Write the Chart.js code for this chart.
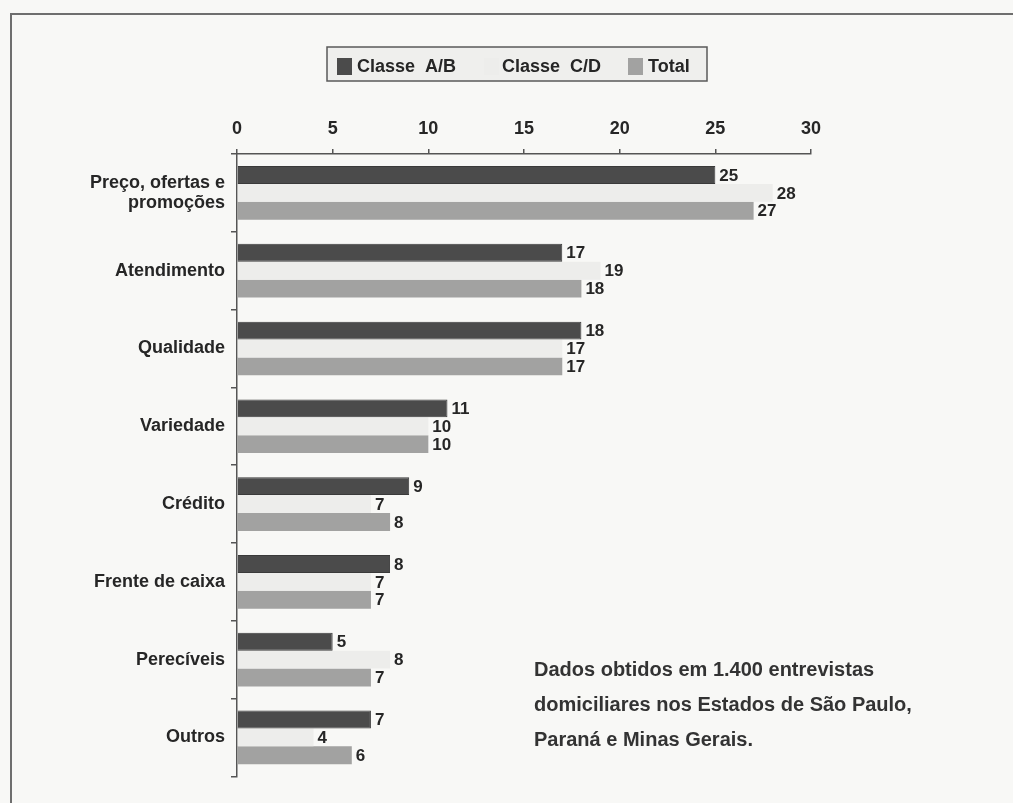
<!DOCTYPE html>
<html>
<head>
<meta charset="utf-8">
<script src="https://cdn.jsdelivr.net/npm/chart.js@4"></script>
<style>
  html, body { margin: 0; padding: 0; background: #f8f8f6; }
  #wrap { width: 1013px; height: 803px; position: relative; }
</style>
</head>
<body>
<div id="wrap"><canvas id="c" width="1013" height="803"></canvas></div>
<script>
// ---- data ----
const categories = [["Preço, ofertas e", "promoções"], "Atendimento", "Qualidade", "Variedade", "Crédito", "Frente de caixa", "Perecíveis", "Outros"];
const seriesNames = ["Classe  A/B", "Classe  C/D", "Total"];
const classeAB = [25, 17, 18, 11, 9, 8, 5, 7];
const classeCD = [28, 19, 17, 10, 7, 7, 8, 4];
const totalVals = [27, 18, 17, 10, 8, 7, 7, 6];
const xTickValues = [0, 5, 10, 15, 20, 25, 30];
const noteLines = ["Dados obtidos em 1.400 entrevistas", "domiciliares nos Estados de São Paulo,", "Paraná e Minas Gerais."];

const FONT = "'Liberation Sans', Arial, Helvetica, sans-serif";
const TEXT = "#262626";

const bgPlugin = {
  id: 'bg',
  beforeDraw(chart) {
    const ctx = chart.ctx;
    ctx.save();
    ctx.fillStyle = '#f8f8f6';
    ctx.fillRect(0, 0, chart.width, chart.height);
    ctx.strokeStyle = '#6e6e6e';
    ctx.lineWidth = 2;
    ctx.beginPath();
    ctx.moveTo(11, 803);
    ctx.lineTo(11, 14);
    ctx.lineTo(1013, 14);
    ctx.stroke();
    ctx.restore();
  }
};

const legendPlugin = {
  id: 'customLegend',
  afterDraw(chart) {
    const ctx = chart.ctx;
    ctx.save();
    ctx.fillStyle = '#efefed';
    ctx.fillRect(327, 47, 380, 34);
    ctx.strokeStyle = '#5a5a5a';
    ctx.lineWidth = 1.5;
    ctx.strokeRect(327, 47, 380, 34);
    const boxX = [337, 484, 628];
    const textX = [357, 502, 648];
    ctx.font = "bold 18px " + FONT;
    ctx.textBaseline = 'middle';
    ctx.textAlign = 'left';
    chart.data.datasets.forEach((ds, i) => {
      ctx.fillStyle = ds.backgroundColor;
      ctx.fillRect(boxX[i], 58, 15, 17);
      ctx.fillStyle = TEXT;
      ctx.fillText(ds.label, textX[i], 67);
    });
    ctx.restore();
  }
};

const valueLabels = {
  id: 'valueLabels',
  afterDatasetsDraw(chart) {
    const ctx = chart.ctx;
    ctx.save();
    ctx.font = "bold 17px " + FONT;
    ctx.fillStyle = TEXT;
    ctx.textAlign = 'left';
    ctx.textBaseline = 'middle';
    chart.data.datasets.forEach((ds, i) => {
      const meta = chart.getDatasetMeta(i);
      meta.data.forEach((bar, j) => {
        ctx.fillText(String(ds.data[j]), bar.x + 4, bar.y + 1);
      });
    });
    ctx.restore();
  }
};

const notePlugin = {
  id: 'note',
  afterDraw(chart) {
    const ctx = chart.ctx;
    ctx.save();
    ctx.font = "bold 20px " + FONT;
    ctx.fillStyle = '#333';
    ctx.textAlign = 'left';
    ctx.textBaseline = 'middle';
    const ys = [670, 705, 740];
    noteLines.forEach((t, i) => ctx.fillText(t, 534, ys[i]));
    ctx.restore();
  }
};

new Chart(document.getElementById('c'), {
  type: 'bar',
  data: {
    labels: categories,
    datasets: [
      { label: seriesNames[0], data: classeAB, backgroundColor: '#4b4b4b', borderColor: '#3a3a3a', borderWidth: 1, borderSkipped: 'start' },
      { label: seriesNames[1], data: classeCD, backgroundColor: '#ededeb', borderWidth: 0 },
      { label: seriesNames[2], data: totalVals, backgroundColor: '#a2a2a1', borderWidth: 0 }
    ]
  },
  options: {
    indexAxis: 'y',
    responsive: false,
    animation: false,
    devicePixelRatio: 1,
    layout: { padding: { left: 0, right: 202, top: 114, bottom: 19 } },
    datasets: { bar: { categoryPercentage: 0.69, barPercentage: 1.0 } },
    plugins: {
      legend: { display: false },
      tooltip: { enabled: false },
      title: { display: false }
    },
    scales: {
      x: {
        position: 'top',
        min: 0,
        max: 30,
        afterBuildTicks(scale) { scale.ticks = xTickValues.map(v => ({ value: v })); },
        afterFit(scale) { scale.height = 40; },
        ticks: {
          font: { family: FONT, size: 18, weight: 'bold' },
          color: TEXT,
          padding: 9,
          maxRotation: 0
        },
        grid: { drawOnChartArea: false, drawTicks: true, tickLength: 5, color: '#555', lineWidth: 1.5 },
        border: { display: true, color: '#555', width: 1.5 }
      },
      y: {
        afterFit(scale) { scale.width = 237; },
        ticks: {
          font: { family: FONT, size: 18, weight: 'bold', lineHeight: 1.15 },
          color: TEXT,
          padding: 6
        },
        grid: { offset: true, drawOnChartArea: false, drawTicks: true, tickLength: 6, color: '#555', lineWidth: 1.5 },
        border: { display: true, color: '#555', width: 1.5 }
      }
    }
  },
  plugins: [bgPlugin, valueLabels, legendPlugin, notePlugin]
});
</script>
</body>
</html>
